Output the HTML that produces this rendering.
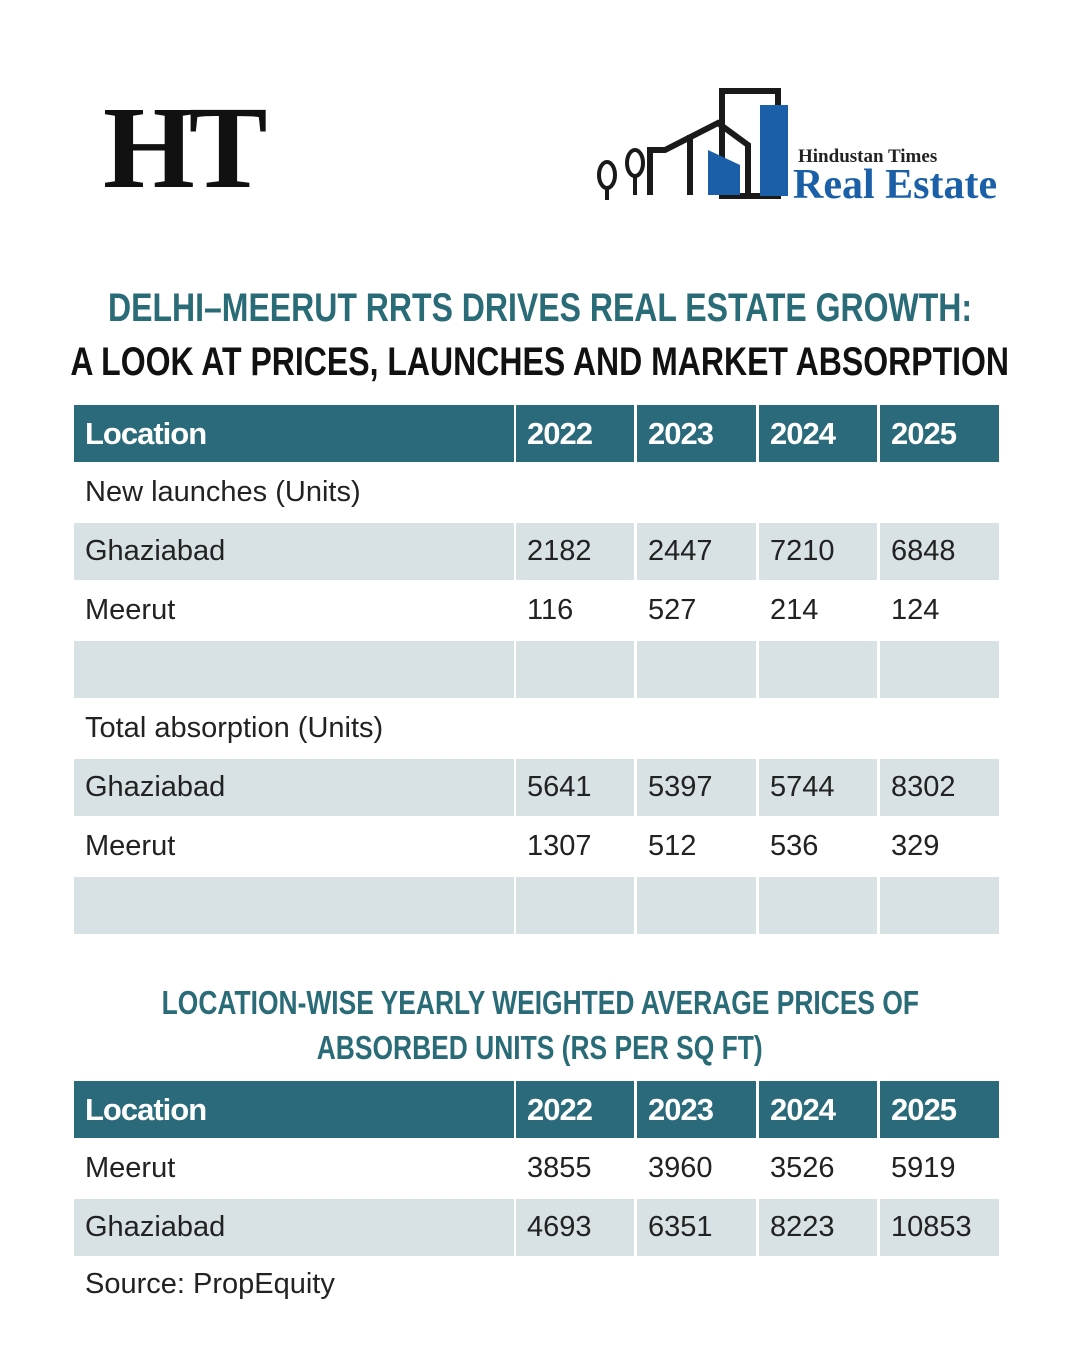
<!DOCTYPE html>
<html><head><meta charset="utf-8"><style>
body{margin:0;width:1080px;height:1350px;background:#fff;position:relative;overflow:hidden;font-family:"Liberation Sans",sans-serif}
.abs{position:absolute}
.title{position:absolute;left:0;width:1080px;display:flex;justify-content:center;font-weight:bold;white-space:nowrap}
.title span{display:inline-block;flex:none}
.cell{position:absolute;height:57px;line-height:57px;font-size:29px;color:#222;box-sizing:border-box;padding-left:11px;white-space:nowrap}
.hd{background:#2a6a7a;color:#fff;font-weight:bold;font-size:31px;letter-spacing:-1px}
.g{background:#d8e2e5}
</style></head><body>
<div class="abs" style="left:103px;top:88px;font-family:'Liberation Serif',serif;font-weight:bold;font-size:118px;line-height:120px;letter-spacing:-6px;color:#111">HT</div>
<svg class="abs" style="left:590px;top:85px" width="430" height="120">
<rect x="132" y="6" width="56" height="105" fill="none" stroke="#1a1a1a" stroke-width="6"/>
<rect x="170" y="20" width="28" height="91" fill="#1a5fa8"/>
<polyline points="60,110 60,65 75,65 128,38 158,60 158,110" fill="none" stroke="#1a1a1a" stroke-width="6"/>
<polygon points="118,65 150,80 150,110 118,110" fill="#1a5fa8"/>
<line x1="100" y1="50" x2="100" y2="110" stroke="#1a1a1a" stroke-width="6"/>
<ellipse cx="17" cy="90" rx="8" ry="13" fill="none" stroke="#1a1a1a" stroke-width="4"/>
<ellipse cx="45" cy="78" rx="8" ry="13" fill="none" stroke="#1a1a1a" stroke-width="4"/>
<line x1="17" y1="103" x2="17" y2="115" stroke="#1a1a1a" stroke-width="4"/>
<line x1="45" y1="91" x2="45" y2="110" stroke="#1a1a1a" stroke-width="4"/>
<text x="208" y="77" font-family="Liberation Serif" font-weight="bold" font-size="19" fill="#222">Hindustan Times</text>
<text x="203" y="113" font-family="Liberation Serif" font-weight="bold" font-size="42" fill="#1a5fa8">Real Estate</text>
</svg>
<div class="title" style="top:286px;font-size:40px;color:#2a6b78"><span style="transform:scaleX(0.8)">DELHI–MEERUT RRTS DRIVES REAL ESTATE GROWTH:</span></div>
<div class="title" style="top:340px;font-size:40px;color:#111"><span style="transform:scaleX(0.8)">A LOOK AT PRICES, LAUNCHES AND MARKET ABSORPTION</span></div>
<div class="title" style="top:984px;font-size:33px;color:#2a6b78"><span style="transform:scaleX(0.8)">LOCATION-WISE YEARLY WEIGHTED AVERAGE PRICES OF</span></div>
<div class="title" style="top:1029px;font-size:33px;color:#2a6b78"><span style="transform:scaleX(0.8)">ABSORBED UNITS (RS PER SQ FT)</span></div>
<div class="abs" style="left:85px;top:1268px;font-size:29px;color:#222">Source: PropEquity</div>
<div id="t"></div>
<script>
const years=["2022","2023","2024","2025"];
const t1Labels=["New launches (Units)","Ghaziabad","Meerut","","Total absorption (Units)","Ghaziabad","Meerut",""];
const t1Values=[null,[2182,2447,7210,6848],[116,527,214,124],[], null,[5641,5397,5744,8302],[1307,512,536,329],[]];
const t2Labels=["Meerut","Ghaziabad"];
const t2Values=[[3855,3960,3526,5919],[4693,6351,8223,10853]];
const colX=[74,516,637,759,880],colW=[440,118,119,118,119];
const root=document.getElementById('t');
function cell(x,y,w,txt,cls){const d=document.createElement('div');d.className='cell '+cls;d.style.left=x+'px';d.style.top=y+'px';d.style.width=w+'px';d.textContent=txt;


root.appendChild(d);}
function header(y){cell(colX[0],y,colW[0],"Location","hd");years.forEach((yr,i)=>cell(colX[i+1],y,colW[i+1],yr,"hd"));}
function rows(y0,labels,vals,grayOdd){labels.forEach((l,r)=>{const y=y0+r*59;const g=(r%2===grayOdd)?'g':'';
 if(vals[r]===null){cell(colX[0],y,925,l,'');return;}
 cell(colX[0],y,colW[0],l,g);for(let i=0;i<4;i++)cell(colX[i+1],y,colW[i+1],vals[r][i]!==undefined?String(vals[r][i]):'',g);});}
header(405);rows(464,t1Labels,t1Values,1);
header(1081);rows(1140,t2Labels,t2Values,1);
</script>
</body></html>
